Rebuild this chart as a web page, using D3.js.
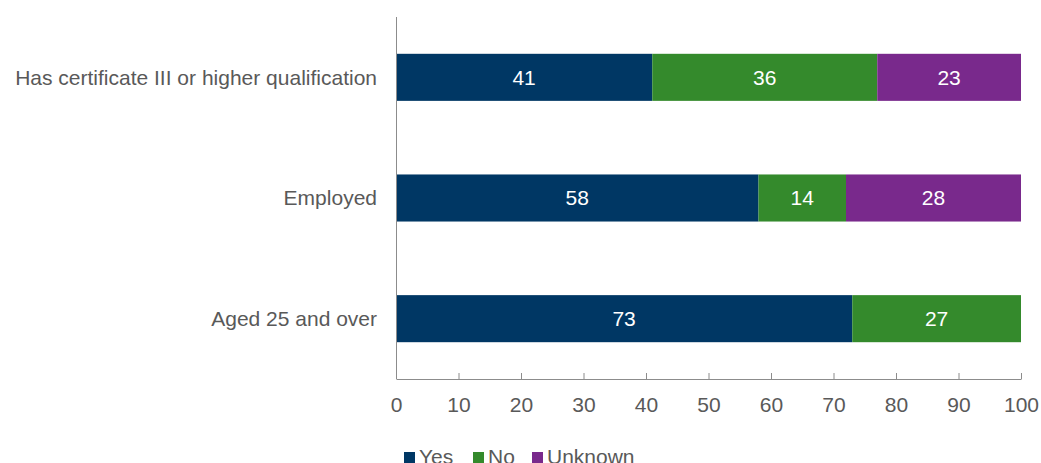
<!DOCTYPE html>
<html><head><meta charset="utf-8">
<script src="https://cdn.jsdelivr.net/npm/d3@7"></script>
<style>body{margin:0;background:#fff}svg{display:block;font-family:"Liberation Sans",Arial,sans-serif}</style>
</head><body><svg id="c" width="1041" height="463"></svg>
<script>
const categories = ["Has certificate III or higher qualification", "Employed", "Aged 25 and over"];
const seriesNames = ["Yes", "No", "Unknown"];
const yesValues = [41, 58, 73];
const noValues = [36, 14, 27];
const unknownValues = [23, 28, 0];
const tickValues = [0,10,20,30,40,50,60,70,80,90,100];
const colors = ["#003764", "#348a2c", "#79298c"];

const FS = 21;
const svg = d3.select("#c");
const x = d3.scaleLinear().domain([0,100]).range([396,1021]);
const y = d3.scaleBand().domain(categories).range([17,379]).paddingInner(0.61).paddingOuter(0.305);

const rows = categories.map((c,i)=>({cat:c, Yes:yesValues[i], No:noValues[i], Unknown:unknownValues[i]}));
const stack = d3.stack().keys(seriesNames)(rows);

stack.forEach((s,si)=>{
  const g = svg.append("g");
  s.forEach(d=>{
    const w = x(d[1]) - x(d[0]);
    if (w <= 0) return;
    g.append("rect").attr("x", x(d[0])).attr("y", y(d.data.cat)).attr("width", w).attr("height", y.bandwidth()).attr("fill", colors[si]);
    g.append("text").attr("x", (x(d[0])+x(d[1]))/2).attr("y", y(d.data.cat)+y.bandwidth()/2).attr("dy","0.35em")
      .attr("text-anchor","middle").attr("fill","#fff").attr("font-size",FS).text(d[1]-d[0]);
  });
});

// x axis (ticks point up, inside)
const xa = svg.append("g").attr("transform","translate(0,379)")
  .call(d3.axisBottom(x).tickValues(tickValues).tickSize(-6).tickPadding(18).tickSizeOuter(0));
xa.select(".domain").attr("stroke","#8c8c8c");
xa.selectAll(".tick line").attr("stroke","#8c8c8c");
xa.selectAll("text").attr("font-size",FS).attr("fill","#595959").attr("font-family","Liberation Sans, Arial, sans-serif");

// y axis line
svg.append("line").attr("x1",396.5).attr("x2",396.5).attr("y1",17).attr("y2",379).attr("stroke","#8c8c8c");
// category labels
categories.forEach(c=>{
  svg.append("text").attr("x",377).attr("y",y(c)+y.bandwidth()/2).attr("dy","0.35em").attr("text-anchor","end")
    .attr("font-size",FS).attr("fill","#595959").text(c);
});

// legend
const legX = [404, 473, 532];
seriesNames.forEach((n,i)=>{
  svg.append("rect").attr("x",legX[i]).attr("y",452).attr("width",11).attr("height",11).attr("fill",colors[i]);
  svg.append("text").attr("x",legX[i]+15).attr("y",464).attr("font-size",FS).attr("fill","#595959").text(n);
});
</script></body></html>
